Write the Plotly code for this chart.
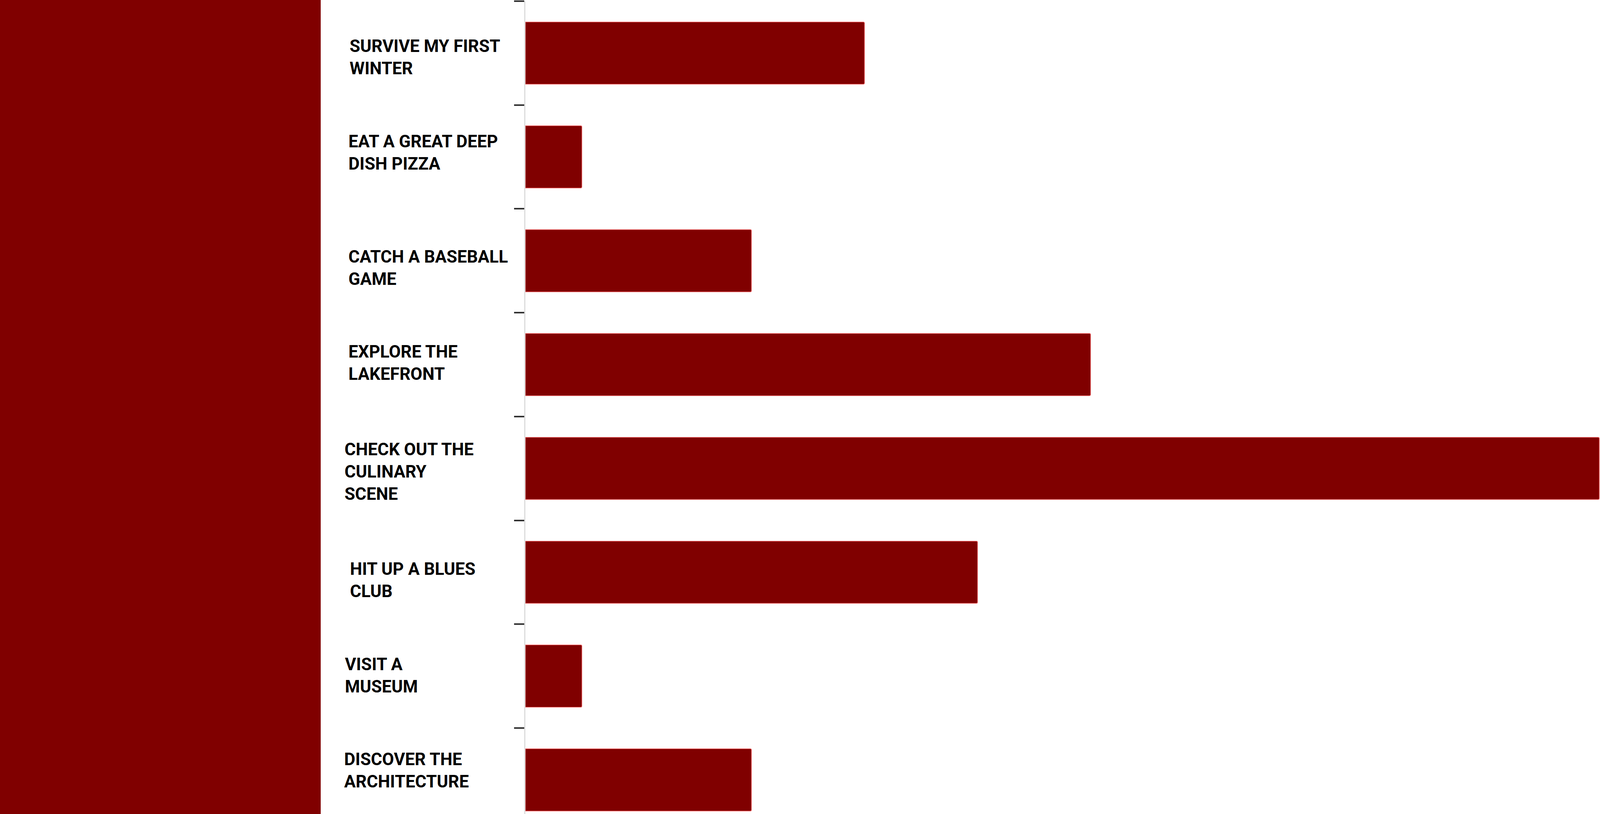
import plotly.graph_objects as go

# ---- data ----
categories = [
    "SURVIVE MY FIRST WINTER",
    "EAT A GREAT DEEP DISH PIZZA",
    "CATCH A BASEBALL GAME",
    "EXPLORE THE LAKEFRONT",
    "CHECK OUT THE CULINARY SCENE",
    "HIT UP A BLUES CLUB",
    "VISIT A MUSEUM",
    "DISCOVER THE ARCHITECTURE",
]
label_lines = [
    "SURVIVE MY FIRST<br>WINTER",
    "EAT A GREAT DEEP<br>DISH PIZZA",
    "CATCH A BASEBALL<br>GAME",
    "EXPLORE THE<br>LAKEFRONT",
    "CHECK OUT THE<br>CULINARY<br>SCENE",
    "HIT UP A BLUES<br>CLUB",
    "VISIT A<br>MUSEUM",
    "DISCOVER THE<br>ARCHITECTURE",
]
values = [6, 1, 4, 10, 19, 8, 1, 4]

# ---- styling ----
W, H = 5000, 2083
MAROON = "#800000"
ML, MR, MT, MB = 1345, 821, 3, 0
plot_w = W - ML - MR
px_per_unit = 144.7
x_max = plot_w / px_per_unit
cat_px = 265.7
n_visible = (H - MT - MB) / cat_px

# small per-label nudges (pixels) of the wrapped label blocks
label_x_px = [895, 892, 892, 892, 882, 896, 883, 881]
label_dy_px = [11, -11, 18, -4, 8, 20, -2, -24]
LABEL_FONT = dict(family="Roboto, 'Liberation Sans', sans-serif", size=44,
                  color="#000000", weight="bold")

fig = go.Figure()
fig.add_trace(go.Bar(
    x=values,
    y=categories,
    orientation="h",
    marker=dict(color=MAROON, line=dict(color="rgba(255,110,110,0.85)", width=1.5),
                cornerradius=3),
    hoverinfo="x+y",
))

annotations = []
for cat, txt, lx, dy in zip(categories, label_lines, label_x_px, label_dy_px):
    annotations.append(dict(
        x=(lx - ML) / plot_w, xref="paper",
        y=cat, yref="y",
        text=txt, showarrow=False,
        xanchor="left", yanchor="middle", align="left",
        xshift=-2, yshift=-dy,
        font=LABEL_FONT,
    ))

fig.update_layout(
    width=W, height=H,
    margin=dict(l=ML, r=MR, t=MT, b=MB, pad=0),
    paper_bgcolor=MAROON,
    plot_bgcolor="rgba(0,0,0,0)",
    showlegend=False,
    bargap=0.4,
    annotations=annotations,
    shapes=[dict(
        type="rect", xref="paper", yref="paper",
        x0=-(ML - 821) / plot_w, x1=1.0, y0=-0.1, y1=1.1,
        fillcolor="#ffffff", line=dict(width=0), layer="below",
    )],
    xaxis=dict(
        range=[0, x_max], showgrid=False, zeroline=False,
        showticklabels=False, ticks="", showline=False,
    ),
    yaxis=dict(
        type="category",
        categoryorder="array", categoryarray=categories,
        range=[-0.5 + n_visible, -0.5],
        tickson="boundaries",
        ticks="outside", ticklen=26, tickwidth=4, tickcolor="#333333",
        showticklabels=False,
        showline=True, linecolor="#dcdcdc", linewidth=3,
        showgrid=False, zeroline=False,
    ),
)

fig.write_html(
    "out.html",
    post_script="document.body.style.margin='0';document.body.style.background='#800000';",
)
